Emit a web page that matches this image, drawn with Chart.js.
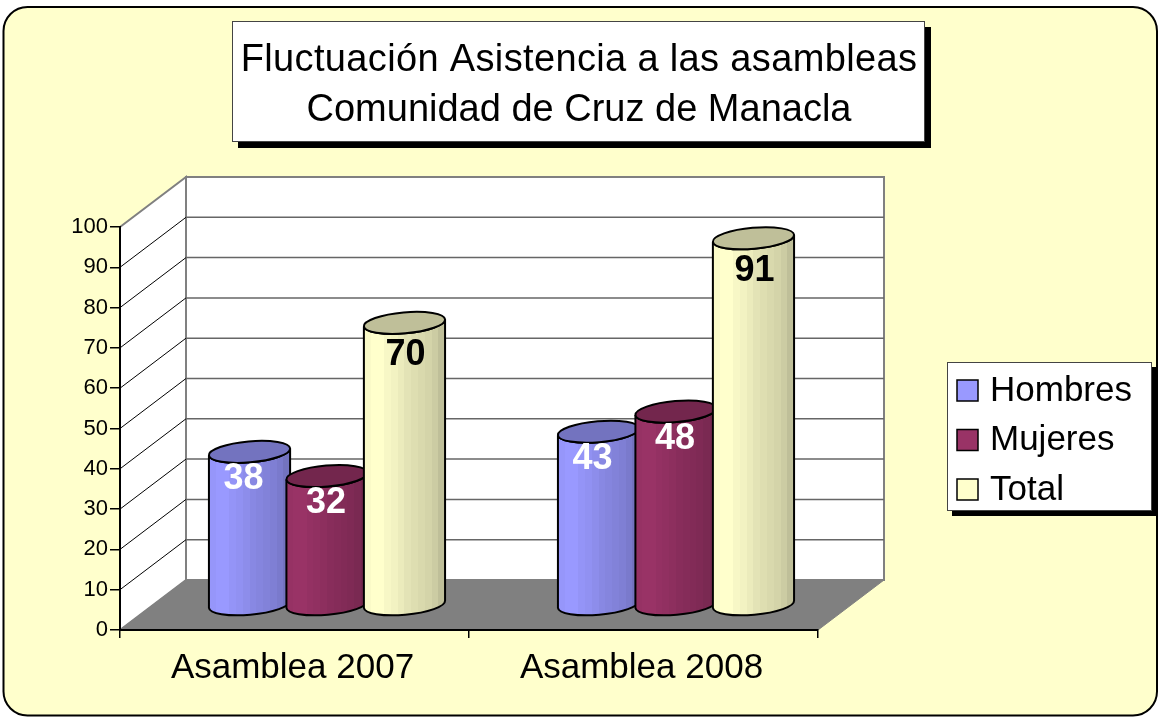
<!DOCTYPE html>
<html lang="es">
<head>
<meta charset="utf-8">
<title>Fluctuación Asistencia a las asambleas</title>
<style>
  html, body { margin: 0; padding: 0; background: #ffffff; }
  canvas { display: block; }
</style>
<script src="https://cdn.jsdelivr.net/npm/chart.js@4/dist/chart.umd.min.js"></script>
</head>
<body>
<canvas id="grafico" width="1159" height="717"></canvas>
<script>
// =========================================================
// DATOS
// =========================================================
const categorias = ['Asamblea 2007', 'Asamblea 2008'];
const series = ['Hombres', 'Mujeres', 'Total'];
const hombres = [38, 43];
const mujeres = [32, 48];
const total = [70, 91];
const titulo = ['Fluctuación Asistencia a las asambleas', 'Comunidad de Cruz de Manacla'];

// =========================================================
// COLORES Y MEDIDAS
// =========================================================
const fuente = '"Liberation Sans", Arial, sans-serif';
const colores = ['#9999ff', '#993366', '#ffffcc'];
const colorEtiqueta = ['#ffffff', '#ffffff', '#000000'];
const ajusteEtiquetaX = [-6, -1, 1];
const ajusteEtiquetaY = [27.5, 27.5, 32.5];
const fondo = '#ffffcc';
const gris = '#808080';
const fondoX = 66;   // profundidad de la caja 3D
const fondoY = -50;

// Oscurece un color hex por un factor
function sombra(hex, f) {
  const n = parseInt(hex.slice(1), 16);
  const c = [n >> 16, (n >> 8) & 255, n & 255].map(v => Math.round(v * f));
  return `rgb(${c[0]},${c[1]},${c[2]})`;
}

function cajaConSombra(ctx, x, y, w, h, d) {
  ctx.fillStyle = '#000000';
  ctx.fillRect(x + d, y + d, w, h);
  ctx.fillStyle = '#ffffff';
  ctx.fillRect(x, y, w, h);
  ctx.strokeStyle = '#444444';
  ctx.lineWidth = 1;
  ctx.strokeRect(x + 0.5, y + 0.5, w - 1, h - 1);
}

function poligono(ctx, puntos, relleno, borde) {
  ctx.beginPath();
  puntos.forEach((p, i) => (i ? ctx.lineTo(p[0], p[1]) : ctx.moveTo(p[0], p[1])));
  ctx.closePath();
  if (relleno) { ctx.fillStyle = relleno; ctx.fill(); }
  if (borde) { ctx.strokeStyle = borde; ctx.stroke(); }
}

// =========================================================
// PLUGIN: fondo, cajas, paredes y suelo
// =========================================================
const escena = {
  id: 'escena',
  beforeDraw(chart) {
    const { ctx, chartArea: a, scales: { y } } = chart;
    ctx.save();

    // Marco exterior redondeado
    ctx.beginPath();
    ctx.roundRect(3.5, 7, 1153.5, 708.5, 24);
    ctx.fillStyle = fondo;
    ctx.fill();
    ctx.strokeStyle = '#000000';
    ctx.lineWidth = 2;
    ctx.stroke();

    // Titulo
    cajaConSombra(ctx, 232, 21, 693, 121, 6);
    ctx.fillStyle = '#000000';
    ctx.font = `38px ${fuente}`;
    ctx.textAlign = 'center';
    ctx.textBaseline = 'middle';
    titulo.forEach((linea, i) => {
      ctx.letterSpacing = i === 0 ? '0.35px' : '0px';
      ctx.fillText(linea, 579, 61 + i * 50);
    });
    ctx.letterSpacing = '0px';

    // Paredes
    const x0 = a.left, x1 = a.right, yTop = a.top, yBase = a.bottom;
    const bx0 = x0 + fondoX, bx1 = x1 + fondoX;
    const byTop = yTop + fondoY, byBase = yBase + fondoY;
    ctx.lineWidth = 2;
    poligono(ctx, [[bx0, byTop], [bx1, byTop], [bx1, byBase], [bx0, byBase]], '#ffffff', gris);
    poligono(ctx, [[x0, yTop], [bx0, byTop], [bx0, byBase], [x0, yBase]], '#ffffff', gris);

    // Lineas de division en ambas paredes
    for (let v = 10; v < 100; v += 10) {
      const py = y.getPixelForValue(v);
      ctx.beginPath();
      ctx.moveTo(x0, py);
      ctx.lineTo(bx0, py + fondoY);
      ctx.strokeStyle = '#000000';
      ctx.lineWidth = 1;
      ctx.stroke();
      ctx.beginPath();
      ctx.moveTo(bx0, py + fondoY);
      ctx.lineTo(bx1, py + fondoY);
      ctx.strokeStyle = '#666666';
      ctx.lineWidth = 1.5;
      ctx.stroke();
    }

    // Suelo
    ctx.lineWidth = 1;
    poligono(ctx, [[x0, yBase], [x1, yBase], [bx1, byBase], [bx0, byBase]], gris, gris);
    ctx.restore();
  },
  // Cilindros en lugar de las barras planas
  beforeDatasetsDraw(chart) {
    const { ctx } = chart;
    const dx = fondoX / 2, dy = fondoY / 2;
    const inclinacion = -0.087;
    chart.data.datasets.forEach((ds, i) => {
      chart.getDatasetMeta(i).data.forEach(bar => {
        const cx = bar.x + dx - 0.5;
        const rx = bar.width / 2 + 2;
        const ry = 10.5;
        const yArriba = bar.y + dy;
        const yAbajo = bar.base + dy;
        const ox = rx * Math.cos(inclinacion);
        const oy = rx * Math.sin(inclinacion);

        // Bandas verticales de la cara lateral
        const grad = ctx.createLinearGradient(cx - ox, 0, cx + ox, 0);
        const perfil = [0.98, 1, 1, 0.97, 0.95, 0.92, 0.89, 0.87, 0.85, 0.83, 0.8, 0.75];
        perfil.forEach((f, b) => {
          grad.addColorStop(b / perfil.length, sombra(ds.backgroundColor, f));
          grad.addColorStop((b + 1) / perfil.length, sombra(ds.backgroundColor, f));
        });

        ctx.save();
        ctx.lineWidth = 2;
        ctx.strokeStyle = '#000000';
        ctx.beginPath();
        ctx.moveTo(cx - ox, yArriba - oy);
        ctx.lineTo(cx - ox, yAbajo - oy);
        ctx.ellipse(cx, yAbajo, rx, ry, inclinacion, Math.PI, 0, true);
        ctx.lineTo(cx + ox, yArriba + oy);
        ctx.ellipse(cx, yArriba, rx, ry, inclinacion, 0, Math.PI, false);
        ctx.closePath();
        ctx.fillStyle = grad;
        ctx.fill();
        ctx.stroke();

        // Tapa superior
        ctx.beginPath();
        ctx.ellipse(cx, yArriba, rx, ry, inclinacion, 0, Math.PI * 2);
        ctx.fillStyle = sombra(ds.backgroundColor, 0.75);
        ctx.fill();
        ctx.stroke();
        ctx.restore();
      });
    });

    // Etiquetas de valor encima de todos los cilindros
    chart.data.datasets.forEach((ds, i) => {
      chart.getDatasetMeta(i).data.forEach((bar, j) => {
        ctx.save();
        ctx.font = `bold 36px ${fuente}`;
        ctx.textAlign = 'center';
        ctx.textBaseline = 'middle';
        ctx.fillStyle = colorEtiqueta[i];
        ctx.fillText(ds.data[j], bar.x + dx - 0.5 + ajusteEtiquetaX[i], bar.y + dy + ajusteEtiquetaY[i]);
        ctx.restore();
      });
    });
    return false;
  },
  // Leyenda
  afterDraw(chart) {
    const { ctx } = chart;
    ctx.save();
    cajaConSombra(ctx, 947, 362, 205, 149, 5);
    series.forEach((nombre, i) => {
      const py = 380 + i * 49.5;
      ctx.fillStyle = colores[i];
      ctx.fillRect(957, py, 21, 21);
      ctx.strokeStyle = '#000000';
      ctx.lineWidth = 1.5;
      ctx.strokeRect(957, py, 21, 21);
      ctx.fillStyle = '#000000';
      ctx.font = `35px ${fuente}`;
      ctx.textAlign = 'left';
      ctx.textBaseline = 'middle';
      ctx.fillText(nombre, 990, py + 11);
    });
    ctx.restore();
  }
};

// =========================================================
// GRAFICO
// =========================================================
new Chart(document.getElementById('grafico'), {
  type: 'bar',
  data: {
    labels: categorias,
    datasets: [
      { label: series[0], data: hombres, backgroundColor: colores[0] },
      { label: series[1], data: mujeres, backgroundColor: colores[1] },
      { label: series[2], data: total, backgroundColor: colores[2] }
    ]
  },
  options: {
    responsive: false,
    animation: false,
    categoryPercentage: 0.666,
    barPercentage: 1,
    layout: { padding: { left: 0, right: 341, top: 227, bottom: 0 } },
    plugins: {
      legend: { display: false },
      title: { display: false },
      tooltip: { enabled: false }
    },
    scales: {
      x: {
        afterFit: s => { s.height = 87; },
        border: { color: '#000000', width: 2 },
        grid: { drawOnChartArea: false, drawTicks: true, tickLength: 8, color: '#000000', lineWidth: 1.5 },
        ticks: { color: '#000000', font: { family: fuente, size: 35 }, padding: 9, maxRotation: 0, labelOffset: -2 }
      },
      y: {
        min: 0,
        max: 100,
        afterFit: s => { s.width = 120; },
        border: { color: '#000000', width: 2 },
        grid: { drawOnChartArea: false, drawTicks: true, tickLength: 10, color: '#000000', lineWidth: 1.5 },
        ticks: { stepSize: 10, color: '#000000', font: { family: fuente, size: 22 }, padding: 2 }
      }
    }
  },
  plugins: [escena]
});
</script>
</body>
</html>
